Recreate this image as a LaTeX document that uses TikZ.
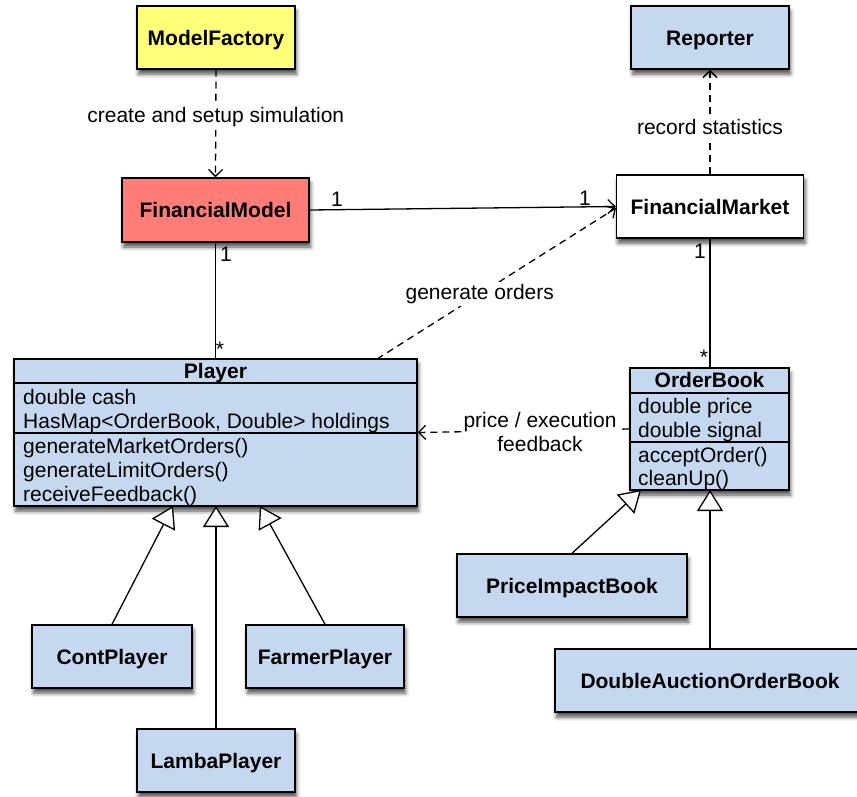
\documentclass[tikz,border=0pt]{standalone}
\usepackage{fontspec}
\setmainfont{Liberation Sans}
\usetikzlibrary{arrows.meta,shadows.blur}
\definecolor{ylw}{RGB}{255,255,120}
\definecolor{lblue}{RGB}{197,216,240}
\definecolor{rd}{RGB}{255,125,118}
\begin{document}
\begin{tikzpicture}[x=1pt,y=-1pt,
  every node/.style={font=\fontsize{21}{24}\selectfont},
  cls/.style={draw=black, line width=1.4pt, inner sep=0pt, minimum height=63pt,
    text height=15pt, text depth=0pt,
    font=\fontsize{21}{24}\selectfont\bfseries,
    blur shadow={shadow xshift=1.5pt, shadow yshift=-5pt, shadow blur radius=4pt, shadow opacity=70}},
  conn/.style={line width=1.3pt},
  dep/.style={conn, dash pattern=on 7pt off 5pt, -{Straight Barb[length=7pt,width=14pt,line width=1.3pt]}},
  assoc/.style={conn, -{Straight Barb[length=7pt,width=14pt,line width=1.3pt]}},
  gen/.style={conn, -{Triangle[open, fill=white, length=21pt, width=26pt, line width=1.3pt]}},
  lbl/.style={fill=white, inner sep=3pt},
  mult/.style={anchor=base, inner sep=0pt},
  txt/.style={anchor=base west, inner sep=0pt},
  sep/.style={line width=1.4pt}
]
\useasboundingbox (0,0) rectangle (857,796);

% simple classes
\node[cls, fill=ylw, minimum width=158pt] (mf) at (216,37.5) {ModelFactory};
\node[cls, fill=lblue, minimum width=158pt] (rep) at (710,37.5) {Reporter};
\node[cls, fill=rd, minimum width=187pt, minimum height=64pt] (fm) at (215.5,210) {FinancialModel};
\node[cls, fill=white, minimum width=187pt] (fmk) at (710,206.5) {FinancialMarket};

% Player
\node[cls, fill=lblue, minimum width=403pt, minimum height=147pt] (player) at (215.5,432.5) {};
\draw[sep] (14,383) -- (417,383);
\draw[sep] (14,433) -- (417,433);
\node[mult, font=\fontsize{21}{24}\selectfont\bfseries] (ptitle) at (215.5,378) {Player};
\node[txt] (pa1) at (23,404) {double cash};
\node[txt] (pa2) at (23,428) {HasMap<OrderBook, Double> holdings};
\node[txt] (pm1) at (23,453) {generateMarketOrders()};
\node[txt] (pm2) at (23,477) {generateLimitOrders()};
\node[txt] (pm3) at (23,501) {receiveFeedback()};

% OrderBook
\node[cls, fill=lblue, minimum width=159pt, minimum height=122pt] (ob) at (709.5,429) {};
\draw[sep] (630,393) -- (789,393);
\draw[sep] (630,442) -- (789,442);
\node[mult, font=\fontsize{21}{24}\selectfont\bfseries] (otitle) at (709.5,387) {OrderBook};
\node[txt] (oa1) at (638,413) {double price};
\node[txt] (oa2) at (638,437) {double signal};
\node[txt] (om1) at (638,462) {acceptOrder()};
\node[txt] (om2) at (638,485) {cleanUp()};

% subclasses
\node[cls, fill=lblue, minimum width=160pt] (cp) at (112,656.5) {ContPlayer};
\node[cls, fill=lblue, minimum width=158pt] (fp) at (325,656.5) {FarmerPlayer};
\node[cls, fill=lblue, minimum width=158pt] (lp) at (216,760.5) {LambaPlayer};
\node[cls, fill=lblue, minimum width=230pt] (pib) at (572,585.5) {PriceImpactBook};
\node[cls, fill=lblue, minimum width=310pt] (daob) at (710,680.5) {DoubleAuctionOrderBook};

% coordinates on class borders
\coordinate (pgc) at (173,506);
\coordinate (pgf) at (260,506);
\coordinate (pgl) at (216,506);
\coordinate (ogp) at (641,490);
\coordinate (ogd) at (710,490);
\coordinate (pdep) at (377,359);
\coordinate (fmkin) at (616,208);

% generalizations
\draw[gen] (cp.north) -- (pgc);
\draw[gen] (fp.north) -- (pgf);
\draw[gen] (lp.north) -- (pgl);
\draw[gen] (pib.north) -- (ogp);
\draw[gen] (daob.north) -- (ogd);

% associations
\draw[assoc] (fm.east) -- (fmk.west);
\node[mult] (m1) at (337,206) {1};
\node[mult] (m2) at (585,205) {1};
\draw[conn] (fm.south) -- (fm.south |- player.north);
\node[mult] (m3) at (226,261) {1};
\node[mult] (m4) at (220,356) {*};
\draw[conn] (fmk.south) -- (fmk.south |- ob.north);
\node[mult] (m5) at (700,258) {1};
\node[mult] (m6) at (704,364) {*};

% dependencies
\draw[dep] (mf.south) -- node[lbl, pos=0.44] (l1) {create and setup simulation} (fm.north);
\draw[dep] (fmk.north) -- node[lbl, pos=0.45] (l2) {record statistics} (rep.south);
\draw[dep] (pdep) -- node[lbl, pos=0.43, inner sep=2pt] (l3) {generate orders} (fmkin);
\draw[dep] (ob.west) -- (player.east);
\node[lbl, align=center, inner sep=2pt] (l4) at (540,432) {price / execution\\feedback};
\end{tikzpicture}
\end{document}
